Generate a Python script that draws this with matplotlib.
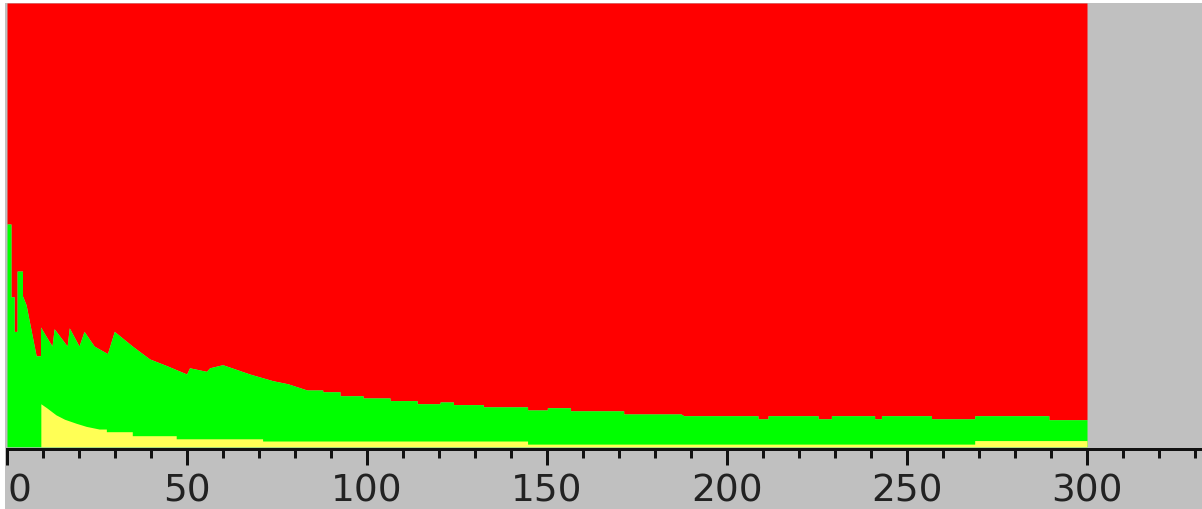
import matplotlib
matplotlib.use("Agg")
import matplotlib.pyplot as plt
from matplotlib.patches import Rectangle
from matplotlib.ticker import MultipleLocator

# ---- data (share in %) ----
green_x = [0, 1.1, 1.1, 2.0, 2.0, 2.8, 2.8, 4.3, 4.3, 5.3, 8.1, 9.3, 9.3, 12.5, 13.1,
           16.7, 17.3, 20.0, 21.4, 24.2, 27.9, 29.8, 34.8, 39.6, 44.3, 49.9, 50.7,
           55.4, 56.3, 59.9, 67.4, 73.8, 78.0, 83.3, 87.7, 87.7, 92.5, 92.5, 98.9,
           98.9, 106.4, 106.4, 113.9, 113.9, 120.3, 120.3, 124.0, 124.0, 132.3,
           132.3, 144.6, 144.6, 150.1, 150.1, 156.5, 156.5, 171.3, 171.3, 187.2,
           188.0, 208.6, 208.6, 211.4, 211.4, 225.3, 225.3, 229.0, 229.0, 241.0,
           241.0, 242.9, 242.9, 256.8, 256.8, 268.8, 268.8, 289.4, 289.4, 300.0]
green_top = [50.2, 50.2, 33.8, 33.8, 26.0, 26.0, 39.6, 39.6, 34.0, 32.0, 20.5, 20.5, 27.0, 22.7, 26.6,
             22.7, 26.8, 22.7, 26.0, 22.7, 21.0, 26.0, 22.7, 19.8, 18.3, 16.4, 17.8,
             17.0, 17.8, 18.5, 16.4, 14.9, 14.2, 12.8, 12.8, 12.4, 12.4, 11.5, 11.5,
             11.0, 11.0, 10.4, 10.4, 9.7, 9.7, 10.1, 10.1, 9.5, 9.5,
             9.0, 9.0, 8.3, 8.3, 8.8, 8.8, 8.1, 8.1, 7.4, 7.4,
             7.0, 7.0, 6.3, 6.3, 7.0, 7.0, 6.3, 6.3, 7.0, 7.0,
             6.3, 6.3, 7.0, 7.0, 6.3, 6.3, 7.0, 7.0, 6.1, 6.1]

yellow_x = [0, 9.4, 9.4, 11.0, 13.6, 16.0, 19.2, 22.0, 25.6, 27.6, 27.6, 34.8, 34.8,
            47.0, 47.0, 71.0, 71.0, 144.6, 144.6, 268.8, 268.8, 300.0]
yellow_top = [0, 0, 9.7, 8.8, 7.2, 6.2, 5.3, 4.6, 4.0, 4.0, 3.4, 3.4, 2.5,
              2.5, 1.8, 1.8, 1.3, 1.3, 0.6, 0.6, 1.4, 1.4]

tick_major = [0, 50, 100, 150, 200, 250, 300]

W, H = 1202, 510
PT = 72 / 100  # points per pixel at dpi 100
fig = plt.figure(figsize=(W / 100, H / 100), dpi=100, facecolor="#c0c0c0")
# thin white strips on top and left, as in the reference
fig.patches.append(Rectangle((0, 1 - 4 / H), 1, 4 / H, transform=fig.transFigure,
                             facecolor="white", edgecolor="none"))
fig.patches.append(Rectangle((0, 0), 5 / W, 1, transform=fig.transFigure,
                             facecolor="white", edgecolor="none"))

left_px, top_px, bottom_px = 7, 4, 450
ax = fig.add_axes([left_px / W, (H - bottom_px) / H, 1 - left_px / W,
                   (bottom_px - top_px) / H])
ax.set_facecolor("#c0c0c0")

ax.fill_between(green_x, green_top, 100, color="#ff0000", linewidth=0)
ax.fill_between(green_x, 0, green_top, color="#00ff00", linewidth=0)
ax.fill_between(yellow_x, 0, yellow_top, color="#ffff55", linewidth=0)

ax.set_xlim(0, (W - left_px) / 3.6)
ax.set_ylim(-0.5, 100)

for s in ["top", "left", "right"]:
    ax.spines[s].set_visible(False)
ax.spines["bottom"].set_linewidth(3 * PT)
ax.spines["bottom"].set_color("#111111")

ax.set_yticks([])
ax.set_xticks(tick_major)
ax.xaxis.set_minor_locator(MultipleLocator(10))
ax.tick_params(axis="x", which="major", direction="out", length=16 * PT, width=3 * PT,
               color="#111111", labelsize=27, labelcolor="#222222", pad=8 * PT)
ax.tick_params(axis="x", which="minor", direction="out", length=9 * PT, width=3 * PT,
               color="#111111")
labels = ax.set_xticklabels([str(v) for v in tick_major], family="DejaVu Sans")
labels[0].set_horizontalalignment("left")

fig.savefig("out.png", dpi=100, facecolor=fig.get_facecolor())
